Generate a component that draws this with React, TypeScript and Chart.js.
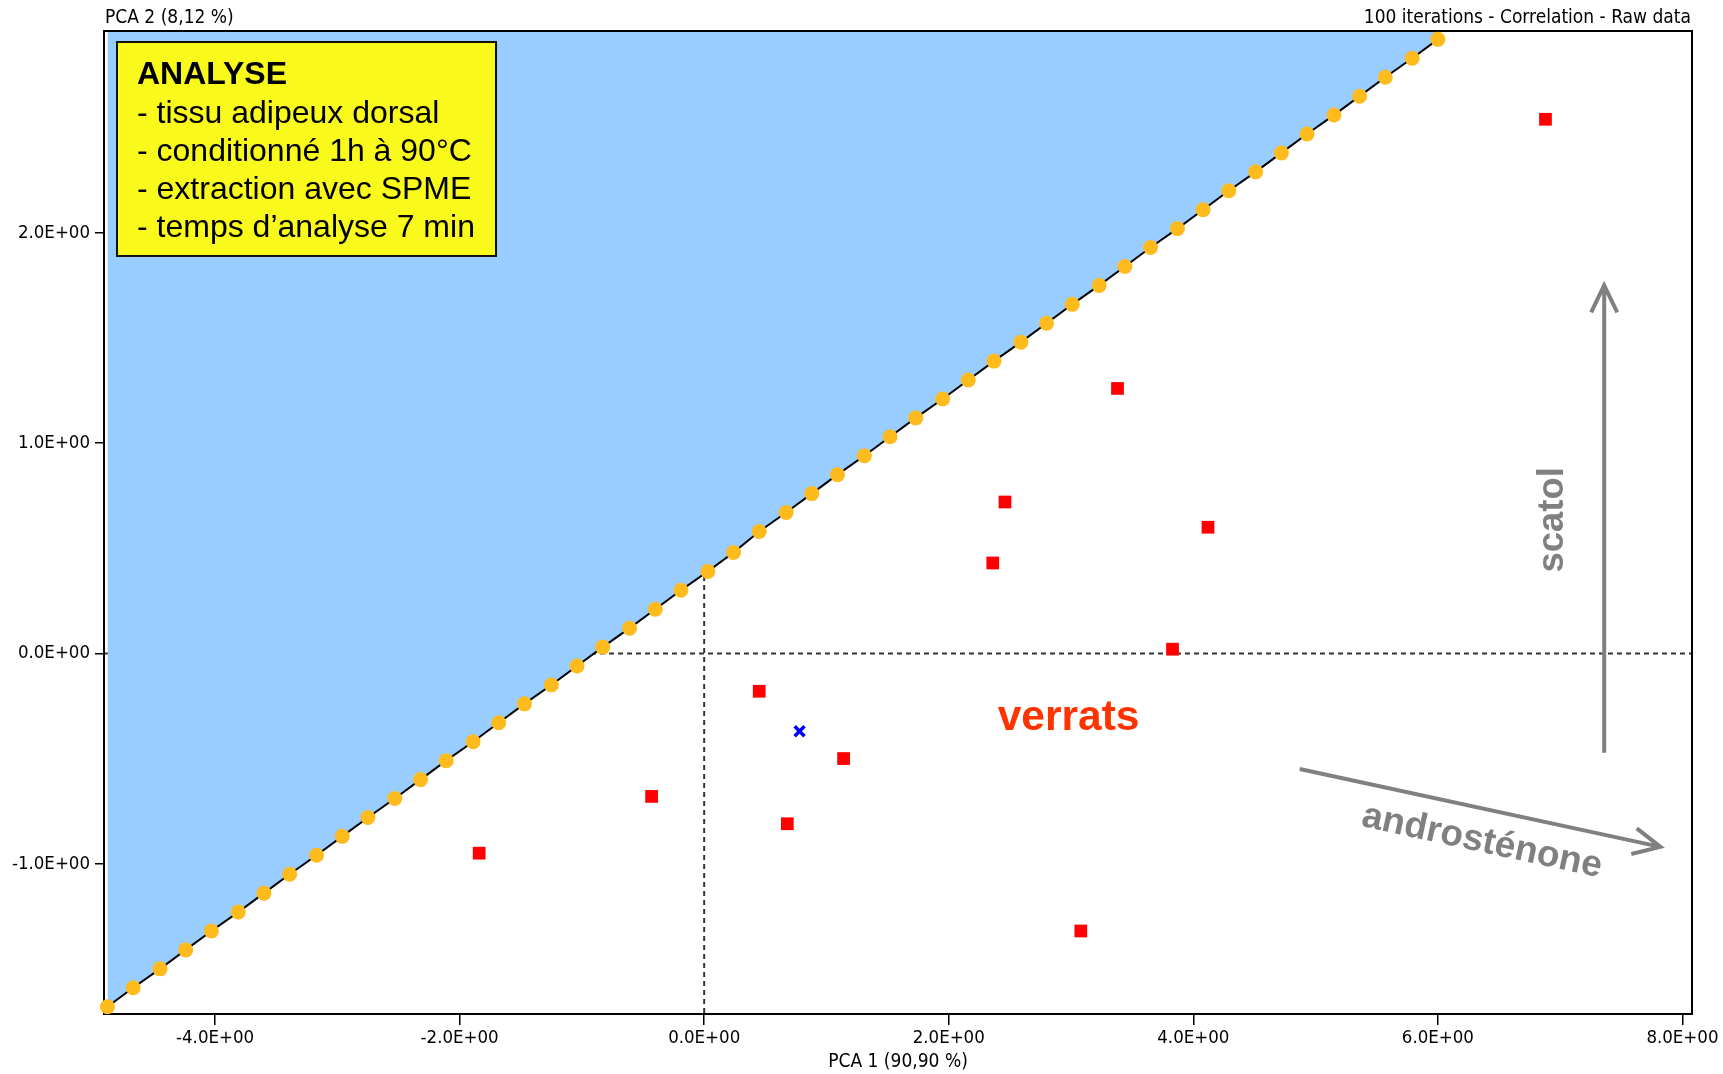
import { useEffect, useRef } from "react";
import { Chart, registerables } from "chart.js";

Chart.register(...registerables);

// Discriminant boundary: iteration points along the separating line
const boundaryX = [
  -4.88, -4.67, -4.45, -4.24, -4.03, -3.81, -3.6, -3.39, -3.17, -2.96,
  -2.75, -2.53, -2.32, -2.11, -1.89, -1.68, -1.47, -1.25, -1.04, -0.83,
  -0.61, -0.4, -0.19, 0.03, 0.24, 0.45, 0.67, 0.88, 1.09, 1.31,
  1.52, 1.73, 1.95, 2.16, 2.37, 2.59, 2.8, 3.01, 3.23, 3.44,
  3.65, 3.87, 4.08, 4.29, 4.51, 4.72, 4.93, 5.15, 5.36, 5.57,
  5.79, 6.0,
];
const boundaryY = [
  -1.68, -1.59, -1.5, -1.41, -1.32, -1.23, -1.14, -1.05, -0.96, -0.87,
  -0.78, -0.69, -0.6, -0.51, -0.42, -0.33, -0.24, -0.15, -0.06, 0.03,
  0.12, 0.21, 0.3, 0.39, 0.48, 0.58, 0.67, 0.76, 0.85, 0.94,
  1.03, 1.12, 1.21, 1.3, 1.39, 1.48, 1.57, 1.66, 1.75, 1.84,
  1.93, 2.02, 2.11, 2.2, 2.29, 2.38, 2.47, 2.56, 2.65, 2.74,
  2.83, 2.92,
];

// Boar samples (verrats)
const boarX = [6.88, 3.38, 2.46, 4.12, 2.36, 3.83, 0.45, 1.14, -0.43, 0.68, -1.84, 3.08];
const boarY = [2.54, 1.26, 0.72, 0.6, 0.43, 0.02, -0.18, -0.5, -0.68, -0.81, -0.95, -1.32];

// Sample being classified
const unknownX = [0.78];
const unknownY = [-0.37];

const xTicks = [-4, -2, 0, 2, 4, 6, 8];
const yTicks = [-1, 0, 1, 2];
const xRange = [-4.9, 8.07];
const yRange = [-1.71, 2.955];

const xTitle = "PCA 1 (90,90 %)";
const yTitle = "PCA 2 (8,12 %)";
const topRightText = "100 iterations - Correlation - Raw data";
const boxTitle = "ANALYSE";
const boxLines = [
  "- tissu adipeux dorsal",
  "- conditionné 1h à 90°C",
  "- extraction avec SPME",
  "- temps d’analyse 7 min",
];

const CONDENSED = '"DejaVu Sans Condensed", "DejaVu Sans", sans-serif';
const SMALL_FONT = "19px " + CONDENSED;
const ARIAL = '"Liberation Sans", Arial, sans-serif';
const GREY = "#808080";

function sci(v: number): string {
  if (v === 0) return "0.0E+00";
  const e = Math.floor(Math.log10(Math.abs(v)));
  const m = v / Math.pow(10, e);
  const sign = e < 0 ? "-" : "+";
  return m.toFixed(1) + "E" + sign + String(Math.abs(e)).padStart(2, "0");
}

function drawArrow(ctx: CanvasRenderingContext2D, x1: number, y1: number, x2: number, y2: number) {
  const a = Math.atan2(y2 - y1, x2 - x1);
  const len = 30;
  const spread = 0.45;
  ctx.beginPath();
  ctx.moveTo(x1, y1);
  ctx.lineTo(x2, y2);
  ctx.moveTo(x2 + len * Math.cos(a + Math.PI - spread), y2 + len * Math.sin(a + Math.PI - spread));
  ctx.lineTo(x2, y2);
  ctx.lineTo(x2 + len * Math.cos(a + Math.PI + spread), y2 + len * Math.sin(a + Math.PI + spread));
  ctx.stroke();
}

const framePlugin = {
  id: "frame",
  beforeDatasetsDraw(chart: any) {
    const { ctx, chartArea: ca } = chart;
    ctx.save();
    ctx.strokeStyle = "#000";
    ctx.lineWidth = 2;
    ctx.strokeRect(ca.left - 1, ca.top - 1, ca.right - ca.left + 2, ca.bottom - ca.top + 2);
    ctx.restore();
  },
  afterDraw(chart: any) {
    const { ctx, chartArea: ca, scales } = chart;
    const xs = scales.x;
    const ys = scales.y;
    ctx.save();

    // axis titles
    ctx.fillStyle = "#000";
    ctx.font = SMALL_FONT;
    ctx.textBaseline = "middle";
    ctx.textAlign = "left";
    ctx.fillText(yTitle, ca.left, ca.top - 14);
    ctx.textAlign = "right";
    ctx.fillText(topRightText, ca.right, ca.top - 14);
    ctx.textAlign = "center";
    ctx.fillText(xTitle, (ca.left + ca.right) / 2, ca.bottom + 49);

    // analysis box
    const bx = ca.left + 12;
    const by = ca.top + 10;
    ctx.fillStyle = "#F9F91C";
    ctx.fillRect(bx, by, 379, 214);
    ctx.strokeStyle = "#111";
    ctx.lineWidth = 2;
    ctx.strokeRect(bx, by, 379, 214);
    ctx.fillStyle = "#000";
    ctx.textAlign = "left";
    ctx.textBaseline = "alphabetic";
    ctx.font = "bold 32px " + ARIAL;
    ctx.fillText(boxTitle, bx + 20, by + 42);
    ctx.font = "32px " + ARIAL;
    boxLines.forEach((t, i) => ctx.fillText(t, bx + 20, by + 80.5 + i * 38.3));

    // group label
    ctx.fillStyle = "#FF3300";
    ctx.font = "bold 42.5px " + ARIAL;
    ctx.textAlign = "center";
    ctx.fillText("verrats", xs.getPixelForValue(2.98), ys.getPixelForValue(-0.365));

    // loading directions
    ctx.strokeStyle = GREY;
    ctx.lineWidth = 4;
    ctx.lineJoin = "miter";
    drawArrow(ctx, xs.getPixelForValue(7.36), ys.getPixelForValue(-0.473), xs.getPixelForValue(7.36), ys.getPixelForValue(1.75));
    const ax1 = xs.getPixelForValue(4.87), ay1 = ys.getPixelForValue(-0.55);
    const ax2 = xs.getPixelForValue(7.82), ay2 = ys.getPixelForValue(-0.92);
    drawArrow(ctx, ax1, ay1, ax2, ay2);

    ctx.fillStyle = GREY;
    ctx.font = "bold 36.5px " + ARIAL;
    ctx.save();
    ctx.translate(xs.getPixelForValue(7.02), ys.getPixelForValue(0.635));
    ctx.rotate(-Math.PI / 2);
    ctx.textAlign = "center";
    ctx.textBaseline = "alphabetic";
    ctx.fillText("scatol", 0, 0);
    ctx.restore();

    ctx.font = "bold 37px " + ARIAL;
    ctx.save();
    ctx.translate(xs.getPixelForValue(6.36), ys.getPixelForValue(-0.895));
    ctx.rotate(Math.atan2(ay2 - ay1, ax2 - ax1));
    ctx.textAlign = "center";
    ctx.textBaseline = "middle";
    ctx.fillText("androsténone", 0, 0);
    ctx.restore();

    ctx.restore();
  },
};

export default function App() {
  const canvasRef = useRef<HTMLCanvasElement | null>(null);

  useEffect(() => {
    if (!canvasRef.current) return;
    const boundary = boundaryX.map((x, i) => ({ x, y: boundaryY[i] }));
    const boars = boarX.map((x, i) => ({ x, y: boarY[i] }));
    const unknown = unknownX.map((x, i) => ({ x, y: unknownY[i] }));

    const chart = new Chart(canvasRef.current, {
      type: "scatter",
      data: {
        datasets: [
          {
            type: "line",
            label: "axis-x0",
            data: [{ x: 0, y: yRange[0] }, { x: 0, y: yRange[1] }],
            borderColor: "#333",
            borderWidth: 2,
            borderDash: [5, 4],
            pointRadius: 0,
            fill: false,
            order: 6,
          },
          {
            type: "line",
            label: "axis-y0",
            data: [{ x: xRange[0], y: 0 }, { x: xRange[1], y: 0 }],
            borderColor: "#333",
            borderWidth: 2,
            borderDash: [5, 4],
            pointRadius: 0,
            fill: false,
            order: 6,
          },
          {
            type: "line",
            label: "boundary",
            data: boundary,
            borderColor: "#000",
            borderWidth: 2,
            backgroundColor: "#99CCFF",
            fill: "end",
            pointRadius: 7.5,
            pointBackgroundColor: "#FDBB1E",
            pointBorderWidth: 0,
            clip: false,
            order: 1,
          } as any,
          {
            label: "verrats",
            data: boars,
            pointStyle: "rect",
            pointRadius: 9,
            backgroundColor: "#FF0000",
            borderWidth: 0,
            order: 3,
          },
          {
            label: "unknown",
            data: unknown,
            pointStyle: "crossRot",
            pointRadius: 7,
            borderColor: "#0000FF",
            borderWidth: 3.5,
            order: 2,
          },
        ],
      },
      options: {
        responsive: false,
        animation: false,
        layout: { padding: { left: 0, top: 32, right: 32, bottom: 0 } },
        plugins: {
          legend: { display: false },
          tooltip: { enabled: false },
          title: { display: false },
        },
        scales: {
          x: {
            type: "linear",
            min: xRange[0],
            max: xRange[1],
            afterBuildTicks: (s: any) => {
              s.ticks = xTicks.map((value) => ({ value }));
            },
            afterFit: (s: any) => {
              s.height = 61;
            },
            grid: { display: true, drawOnChartArea: false, drawTicks: true, tickLength: 12, color: "#000", lineWidth: 1.5 },
            border: { display: false },
            ticks: {
              padding: 2,
              color: "#000",
              font: { family: CONDENSED, size: 18.5 },
              maxRotation: 0,
              autoSkip: false,
              callback: (v: any) => sci(Number(v)),
            },
          },
          y: {
            type: "linear",
            min: yRange[0],
            max: yRange[1],
            afterBuildTicks: (s: any) => {
              s.ticks = yTicks.map((value) => ({ value }));
            },
            afterFit: (s: any) => {
              s.width = 105;
            },
            grid: { display: true, drawOnChartArea: false, drawTicks: true, tickLength: 10, color: "#000", lineWidth: 1.5 },
            border: { display: false },
            ticks: {
              padding: 5,
              color: "#000",
              font: { family: CONDENSED, size: 18.5 },
              autoSkip: false,
              callback: (v: any) => sci(Number(v)),
            },
          },
        },
      },
      plugins: [framePlugin],
    });
    return () => chart.destroy();
  }, []);

  return (
    <div style={{ position: "absolute", left: 0, top: 0, width: 1723, height: 1074, background: "#fff" }}>
      <canvas ref={canvasRef} width={1723} height={1074} style={{ display: "block" }} />
    </div>
  );
}
